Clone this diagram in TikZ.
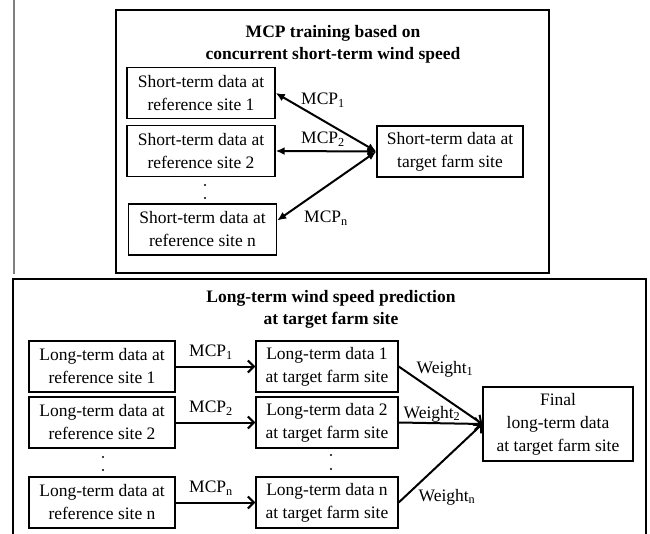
\documentclass[tikz,border=0pt]{standalone}
\usepackage{fontspec}
\setmainfont{Liberation Serif}
\usepackage{tikz}
\usetikzlibrary{arrows.meta}

\begin{document}
\begin{tikzpicture}[x=1pt,y=-1pt]
\tikzstyle{every node}+=[inner sep=0pt, font=\fontsize{17.5}{23}\selectfont]
\tikzstyle{databox}=[draw, line width=1.4pt, align=center, minimum height=51pt]
\tikzstyle{title}=[align=center, font=\fontsize{17.5}{22}\selectfont\bfseries]
\tikzstyle{biarrow}=[line width=2pt, {Latex[length=9pt,width=8pt]}-{Latex[length=9pt,width=8pt]}]
\tikzstyle{fwarrow}=[line width=2pt, -{Straight Barb[length=6pt,width=12pt]}]
\useasboundingbox (0,0) rectangle (650,534);
% frames
\draw [gray, line width=1.2pt] (14,0) -- (14,274);
\draw [black, line width=1.4pt] (116,10) rectangle (549,273);
\draw [black, line width=1.4pt] (13,534) -- (13,279) -- (646,279) -- (646,534);
% MCP training
\node [title] (ttop) at (333,44) {MCP training based on\\concurrent short-term wind speed};
\node [databox, minimum width=148pt] (st1) at (201,93) {Short-term data at\\reference site 1};
\node [databox, minimum width=148pt] (st2) at (201,151) {Short-term data at\\reference site 2};
\node [databox, minimum width=148pt] (stn) at (202.5,229.5) {Short-term data at\\reference site n};
\node [databox, minimum width=146pt] (tgt) at (450,151.5) {Short-term data at\\target farm site};
\fill [black] (205,185) circle (1.1) (205,198) circle (1.1);
\draw [biarrow] (st1.east) -- (tgt.west);
\draw [biarrow] (st2.east) -- (tgt.west);
\draw [biarrow] ([yshift=9pt]stn.east) -- (tgt.west);
\node (mcpa) at (323,100) {MCP\textsubscript{1}};
\node (mcpb) at (323,139) {MCP\textsubscript{2}};
\node (mcpc) at (326,218) {MCP\textsubscript{n}};
% long-term prediction
\node [title] (tbot) at (331,309) {Long-term wind speed prediction\\at target farm site};
\node [databox, minimum width=146pt] (lt1) at (102,366.5) {Long-term data at\\reference site 1};
\node [databox, minimum width=146pt] (lt2) at (102,422.5) {Long-term data at\\reference site 2};
\node [databox, minimum width=146pt] (ltn) at (102,502.5) {Long-term data at\\reference site n};
\node [databox, minimum width=142pt] (lm1) at (327,366.5) {Long-term data 1\\at target farm site};
\node [databox, minimum width=142pt] (lm2) at (327,422.5) {Long-term data 2\\at target farm site};
\node [databox, minimum width=142pt] (lmn) at (327,502.5) {Long-term data n\\at target farm site};
\node [databox, minimum width=150pt, minimum height=74pt] (fin) at (558,424) {Final\\long-term data\\at target farm site};
\fill [black] (103,457) circle (1.1) (103,470) circle (1.1);
\fill [black] (331,455) circle (1.1) (331,469) circle (1.1);
\draw [fwarrow] (lt1) -- (lm1);
\draw [fwarrow] (lt2) -- (lm2);
\draw [fwarrow] (ltn) -- (lmn);
\node (mcpd) at (211,352) {MCP\textsubscript{1}};
\node (mcpe) at (211,408) {MCP\textsubscript{2}};
\node (mcpf) at (211,488) {MCP\textsubscript{n}};
\draw [fwarrow] (lm1.east) -- (fin.west);
\draw [fwarrow] (lm2.east) -- (fin.west);
\draw [fwarrow] (lmn.east) -- (fin.west);
\node (wa) at (445,369) {Weight\textsubscript{1}};
\node (wb) at (432,414) {Weight\textsubscript{2}};
\node (wc) at (447,497) {Weight\textsubscript{n}};
\end{tikzpicture}
\end{document}
